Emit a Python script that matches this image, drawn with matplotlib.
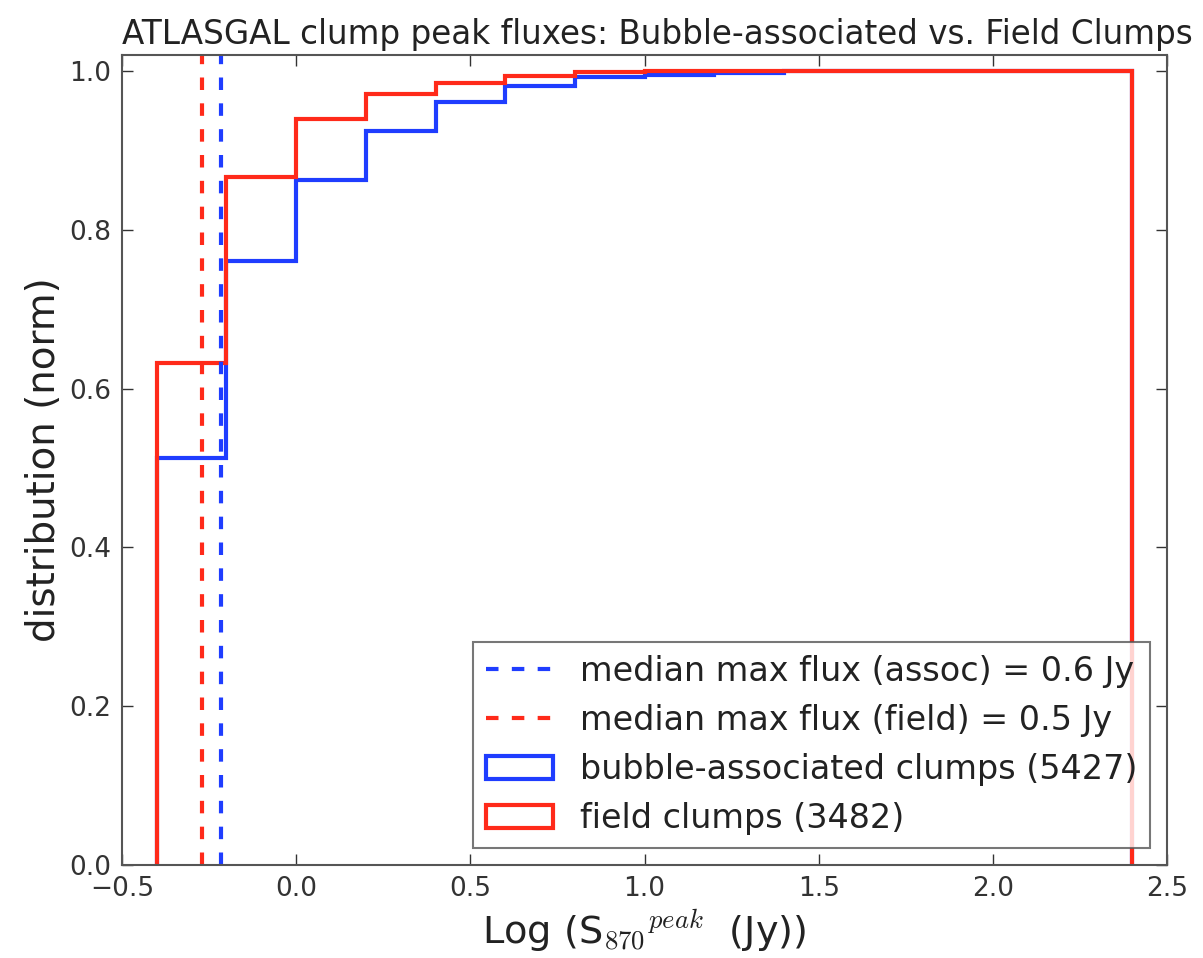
import numpy as np
import matplotlib
matplotlib.use("Agg")
import matplotlib.pyplot as plt
from matplotlib.patches import Patch

# ---------------------------------------------------------------------------
# Data
# ---------------------------------------------------------------------------
bin_edges = [-0.4, -0.2, 0.0, 0.2, 0.4, 0.6, 0.8, 1.0, 1.2, 1.4, 1.6, 1.8, 2.0, 2.2, 2.4]

# cumulative normalised distribution per bin
cum_assoc = [0.513, 0.760, 0.863, 0.924, 0.961, 0.981, 0.992, 0.995, 0.997,
             1.0, 1.0, 1.0, 1.0, 1.0]
cum_field = [0.632, 0.866, 0.939, 0.971, 0.985, 0.994, 0.999, 1.0, 1.0,
             1.0, 1.0, 1.0, 1.0, 1.0]

median_assoc = -0.215   # log10 of median peak flux, bubble-associated
median_field = -0.27    # log10 of median peak flux, field

label_med_assoc = "median max flux (assoc) = 0.6 Jy"
label_med_field = "median max flux (field) = 0.5 Jy"
label_assoc = "bubble-associated clumps (5427)"
label_field = "field clumps (3482)"

x_ticks = [-0.5, 0.0, 0.5, 1.0, 1.5, 2.0, 2.5]
y_ticks = [0.0, 0.2, 0.4, 0.6, 0.8, 1.0]

# ---------------------------------------------------------------------------
# Plot
# ---------------------------------------------------------------------------
plt.rcParams["mathtext.fontset"] = "cm"
plt.rcParams["font.family"] = "DejaVu Sans"

fig = plt.figure(figsize=(12.03, 9.58), dpi=100)
ax = fig.add_axes([122 / 1203, 1 - 865 / 958, (1167 - 122) / 1203, (865 - 55) / 958])

blue = "#1f3dff"
red = "#ff2a1a"

l1 = ax.axvline(median_assoc, color=blue, ls="--", lw=3, dashes=(3, 3.2))
l2 = ax.axvline(median_field, color=red, ls="--", lw=3, dashes=(3, 3.2))

ax.stairs(cum_assoc, bin_edges, baseline=0, fill=False, color=blue, lw=3)
ax.stairs(cum_field, bin_edges, baseline=0, fill=False, color=red, lw=3)

# open rectangles as legend keys, like old-style step histograms
p1 = Patch(facecolor="none", edgecolor=blue, lw=3)
p2 = Patch(facecolor="none", edgecolor=red, lw=3)

ax.set_xlim(-0.5, 2.5)
ax.set_ylim(0, 1.02)
ax.set_xticks(x_ticks)
ax.set_yticks(y_ticks)
ax.tick_params(direction="in", top=True, right=True, length=8, width=1,
               labelsize=19, colors="#333333", pad=8)
for sp in ax.spines.values():
    sp.set_color("#555555")
    sp.set_linewidth(1.5)

ax.set_title("ATLASGAL clump peak fluxes: Bubble-associated vs. Field Clumps",
             fontsize=23.5, color="#222222", pad=8, x=0.512)
ax.set_xlabel(r"Log (S$_{870}$$^{peak}$  (Jy))", fontsize=27.5, color="#222222",
              labelpad=4)
ax.set_ylabel("distribution (norm)", fontsize=28, color="#222222", labelpad=4)

leg = ax.legend([l1, l2, p1, p2],
                [label_med_assoc, label_med_field, label_assoc, label_field],
                loc="lower right", fontsize=24, fancybox=False,
                borderaxespad=0.5, handlelength=2.0, handletextpad=0.8,
                labelspacing=0.48, borderpad=0.4)
leg.get_frame().set_edgecolor("#555555")
leg.get_frame().set_linewidth(1.5)
for t in leg.get_texts():
    t.set_color("#222222")

fig.savefig("out.png", dpi=100)
